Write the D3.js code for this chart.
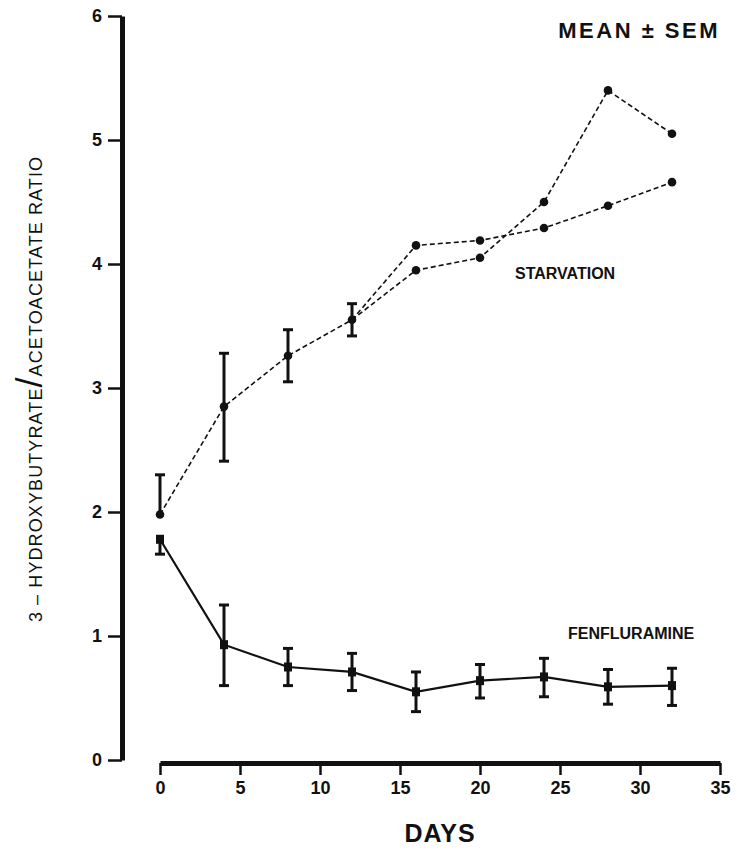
<!DOCTYPE html>
<html>
<head>
<meta charset="utf-8">
<script src="https://cdn.jsdelivr.net/npm/d3@7"></script>
<style>
  body { margin: 0; background: #fff; }
  text { font-family: "Liberation Sans", Arial, sans-serif; fill: #111; }
</style>
</head>
<body>
<div id="chart"></div>
<script>
// data
var days = [0, 4, 8, 12, 16, 20, 24, 28, 32]
var fenMean = [1.78, 0.93, 0.75, 0.71, 0.55, 0.64, 0.67, 0.59, 0.60]
var fenUp   = [0.00, 0.32, 0.15, 0.15, 0.16, 0.13, 0.15, 0.14, 0.14]
var fenDown = [0.12, 0.33, 0.15, 0.15, 0.16, 0.14, 0.16, 0.14, 0.16]
var starvDays = [0, 4, 8, 12]
var starvMean = [1.98, 2.85, 3.26, 3.55]
var starvUp   = [0.32, 0.43, 0.21, 0.13]
var starvDown = [0.00, 0.44, 0.21, 0.13]
var branchDays = [12, 16, 20, 24, 28, 32]
var branchA = [3.55, 4.15, 4.19, 4.29, 4.47, 4.66]
var branchB = [3.55, 3.95, 4.05, 4.50, 5.40, 5.05]
var xTicks = [0, 5, 10, 15, 20, 25, 30, 35]
var yTicks = [0, 1, 2, 3, 4, 5, 6]

var W = 741, H = 852

var svg = d3.select("#chart").append("svg")
    .attr("width", W)
    .attr("height", H)

var x = d3.scaleLinear().domain([0, 35]).range([160, 720])
var y = d3.scaleLinear().domain([0, 6]).range([760, 16])

// y axis
var gy = svg.append("g")
  .attr("transform", "translate(122,0)")
  .call(d3.axisLeft(y).tickValues(yTicks).tickFormat(d3.format("d")).tickSize(14).tickSizeOuter(0).tickPadding(6))
gy.select(".domain").attr("stroke", "#111").attr("stroke-width", 5)
gy.selectAll(".tick line").attr("stroke", "#111").attr("stroke-width", 2.5)
gy.selectAll(".tick text").style("font-size", "18px").style("font-weight", "bold").attr("fill", "#111")

// x axis
var gx = svg.append("g")
  .attr("transform", "translate(0,763)")
  .call(d3.axisBottom(x).tickValues(xTicks).tickSize(12).tickSizeOuter(0).tickPadding(6))
gx.select(".domain").attr("stroke", "#111").attr("stroke-width", 5)
gx.selectAll(".tick line").attr("stroke", "#111").attr("stroke-width", 2.5)
gx.selectAll(".tick text").style("font-size", "18px").style("font-weight", "bold").attr("fill", "#111")

svg.append("text")
  .attr("x", 440).attr("y", 842)
  .attr("text-anchor", "middle")
  .style("font-size", "25px").style("font-weight", "bold")
  .style("letter-spacing", "1px")
  .text("DAYS")

var ylab = svg.append("text")
  .attr("transform", "translate(42,389) rotate(-90)")
  .attr("text-anchor", "middle")
  .style("font-size", "18px")
  .style("letter-spacing", "1.1px")
ylab.append("tspan").text("3 \u2013 HYDROXYBUTYRATE")
ylab.append("tspan").style("font-size", "36px").style("font-weight", "normal").text("/")
ylab.append("tspan").text("ACETOACETATE  RATIO")

svg.append("text")
  .attr("x", 720).attr("y", 38)
  .attr("text-anchor", "end")
  .style("font-size", "22px").style("font-weight", "bold")
  .style("letter-spacing", "2.5px")
  .text("MEAN \u00b1 SEM")

svg.append("text")
  .attr("x", 515).attr("y", 279)
  .style("font-size", "16px").style("font-weight", "bold")
  .text("STARVATION")

svg.append("text")
  .attr("x", 568).attr("y", 639)
  .style("font-size", "16px").style("font-weight", "bold")
  .text("FENFLURAMINE")

var line = d3.line()
  .x(function(d){ return x(d[0]) })
  .y(function(d){ return y(d[1]) })

function errorBars(dd, mean, up, down) {
  var g = svg.append("g").attr("stroke", "#111").attr("stroke-width", 3)
  dd.forEach(function(d, i) {
    var top = mean[i] + up[i], bot = mean[i] - down[i]
    g.append("line").attr("x1", x(d)).attr("x2", x(d)).attr("y1", y(top)).attr("y2", y(bot))
    if (up[i] > 0)
      g.append("line").attr("x1", x(d) - 5).attr("x2", x(d) + 5).attr("y1", y(top)).attr("y2", y(top))
    if (down[i] > 0)
      g.append("line").attr("x1", x(d) - 5).attr("x2", x(d) + 5).attr("y1", y(bot)).attr("y2", y(bot))
  })
}

// starvation (dashed, circles)
var starvPts = starvDays.map(function(d, i){ return [d, starvMean[i]] })
var aPts = branchDays.map(function(d, i){ return [d, branchA[i]] })
var bPts = branchDays.map(function(d, i){ return [d, branchB[i]] })

;[starvPts, aPts, bPts].forEach(function(pts) {
  svg.append("path")
    .attr("d", line(pts))
    .attr("fill", "none")
    .attr("stroke", "#111")
    .attr("stroke-width", 1.6)
    .attr("stroke-dasharray", "5,3")
})
errorBars(starvDays, starvMean, starvUp, starvDown)

svg.selectAll("circle.pt")
  .data(starvPts.concat(aPts.slice(1), bPts.slice(1)))
  .enter()
  .append("circle")
    .attr("class", "pt")
    .attr("cx", function(d){ return x(d[0]) })
    .attr("cy", function(d){ return y(d[1]) })
    .attr("r", 4.3)
    .attr("fill", "#111")

// fenfluramine (solid, squares)
var fenPts = days.map(function(d, i){ return [d, fenMean[i]] })
svg.append("path")
  .attr("d", line(fenPts))
  .attr("fill", "none")
  .attr("stroke", "#111")
  .attr("stroke-width", 2.2)
errorBars(days, fenMean, fenUp, fenDown)

svg.selectAll("rect.pt")
  .data(fenPts)
  .enter()
  .append("rect")
    .attr("class", "pt")
    .attr("x", function(d){ return x(d[0]) - 4 })
    .attr("y", function(d){ return y(d[1]) - 4.5 })
    .attr("width", 8)
    .attr("height", 9)
    .attr("fill", "#111")
</script>
</body>
</html>
